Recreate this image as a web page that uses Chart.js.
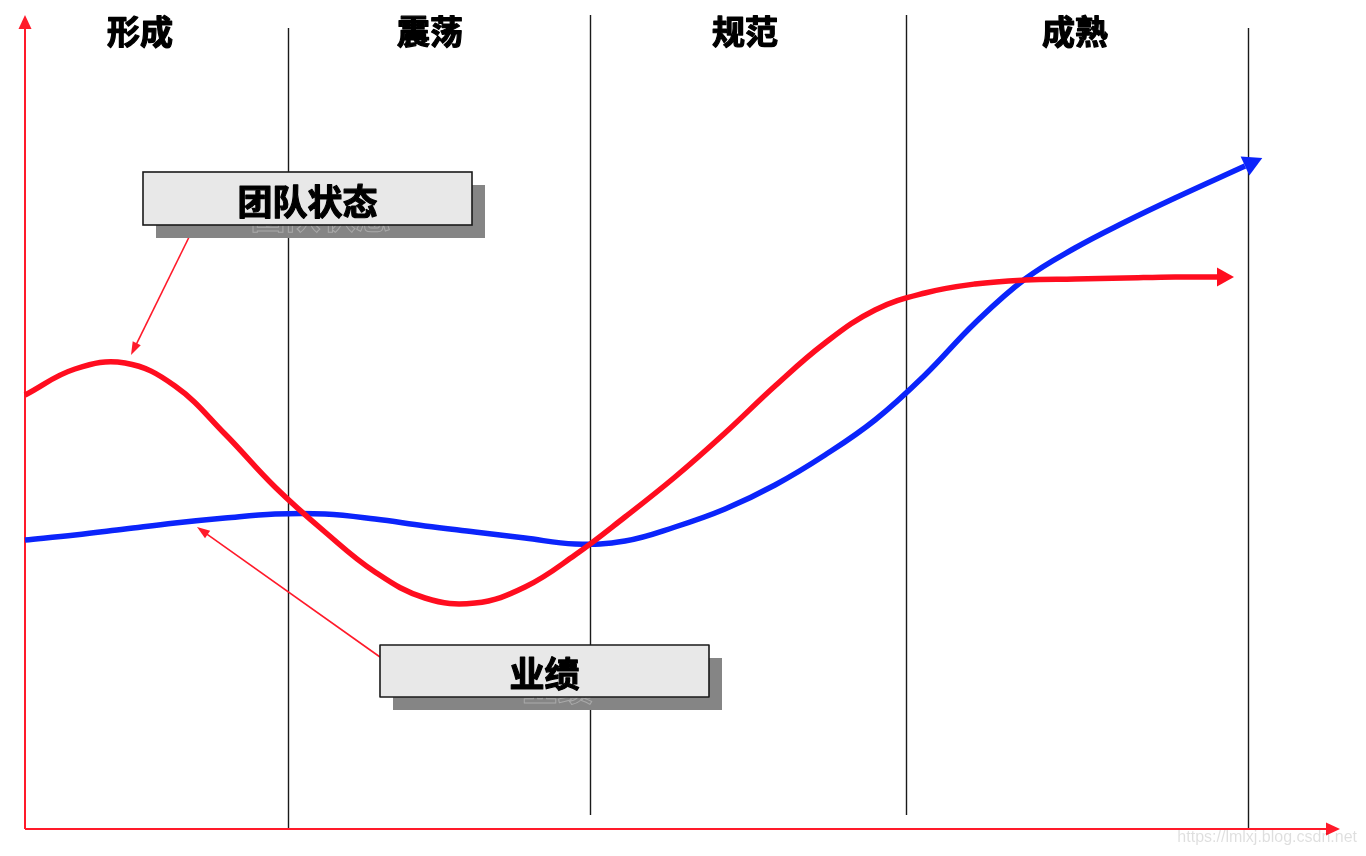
<!DOCTYPE html>
<html><head><meta charset="utf-8">
<script src="https://cdn.jsdelivr.net/npm/chart.js@4/dist/chart.umd.min.js"></script>
<style>html,body{margin:0;padding:0;background:#fff;overflow:hidden}canvas{display:block}</style>
</head><body>
<canvas id="c" width="1366" height="856"></canvas>
<script>
// ---- data (x: time units, y: level units) ----
const stageNames = ['形成', '震荡', '规范', '成熟'];
const stageLabelX = [11.5, 40.5, 72.0, 105.0];
const stageBounds = [26.3, 56.5, 88.1, 122.3];

const teamLabel = '团队状态';
const teamX = [0, 5, 10, 15, 20, 25, 30, 35, 40, 45, 50, 55, 60, 65, 70, 75, 80, 85, 90, 95, 100, 105, 110, 115, 119.2];
const teamY = [43.4, 46.0, 46.6, 44.3, 39.5, 34.2, 29.7, 25.7, 23.1, 22.6, 24.2, 27.4, 31.2, 35.2, 39.6, 44.3, 48.6, 51.9, 53.6, 54.5, 54.9, 55.0, 55.1, 55.2, 55.2];

const perfLabel = '业绩';
const perfX = [0, 5, 10, 15, 20, 25, 30, 35, 40, 45, 50, 55, 60, 65, 70, 75, 80, 85, 90, 95, 100, 105, 110, 115, 122];
const perfY = [28.9, 29.4, 30.0, 30.6, 31.1, 31.5, 31.5, 31.0, 30.3, 29.7, 29.1, 28.5, 28.8, 30.2, 32.0, 34.4, 37.4, 40.9, 45.4, 50.6, 55.0, 58.1, 60.7, 63.1, 66.3];

const RED = '#FF0D1F', BLUE = '#0B24FB', AXIS = '#FF1A2A';

function tri(ctx, tx, ty, dx, dy, len, w, color) {
  const m = Math.hypot(dx, dy) || 1; dx /= m; dy /= m;
  const bx = tx - dx * len, by = ty - dy * len;
  const qx = -dy * w / 2, qy = dx * w / 2;
  ctx.beginPath(); ctx.moveTo(tx, ty); ctx.lineTo(bx + qx, by + qy); ctx.lineTo(bx - qx, by - qy); ctx.closePath();
  ctx.fillStyle = color; ctx.fill();
}

const decor = {
  id: 'decor',
  beforeDatasetsDraw(chart, args, opt) {
    const ctx = chart.ctx, X = chart.scales.x, Y = chart.scales.y;
    const px = v => X.getPixelForValue(v), py = v => Y.getPixelForValue(v);
    ctx.save();
    ctx.strokeStyle = '#1a1a1a'; ctx.lineWidth = 1.4;
    stageBounds.forEach((b, i) => {
      ctx.beginPath(); ctx.moveTo(Math.round(px(b)) + 0.5, py(opt.lineTop[i])); ctx.lineTo(Math.round(px(b)) + 0.5, py(opt.lineBottom[i])); ctx.stroke();
    });
    ctx.fillStyle = '#000'; ctx.strokeStyle = '#000'; ctx.lineWidth = 1.2; ctx.lineJoin = 'round';
    ctx.font = 'bold 33px "Noto Sans CJK SC", sans-serif';
    ctx.textAlign = 'center'; ctx.textBaseline = 'middle';
    stageNames.forEach((s, i) => { ctx.fillText(s, px(stageLabelX[i]), 31); ctx.strokeText(s, px(stageLabelX[i]), 31); });
    ctx.strokeStyle = AXIS; ctx.lineWidth = 2;
    const x0 = px(X.min), y0 = py(Y.min), x1 = px(X.max), y1 = py(Y.max);
    ctx.beginPath(); ctx.moveTo(x0, y0); ctx.lineTo(x0, y1 + 10); ctx.stroke();
    ctx.beginPath(); ctx.moveTo(x0, y0); ctx.lineTo(x1 - 10, y0); ctx.stroke();
    tri(ctx, x0, y1, 0, -1, 14, 13, AXIS);
    tri(ctx, x1, y0, 1, 0, 14, 13, AXIS);
    ctx.restore();
  },
  afterDatasetsDraw(chart, args, opt) {
    const ctx = chart.ctx, X = chart.scales.x, Y = chart.scales.y;
    const px = v => X.getPixelForValue(v), py = v => Y.getPixelForValue(v);
    ctx.save();
    chart.data.datasets.forEach((ds, i) => {
      const pts = chart.getDatasetMeta(i).data, n = pts.length;
      const last = pts[n - 1];
      const ax = (last.cp1x !== undefined) ? last.cp1x : pts[n - 2].x;
      const ay = (last.cp1y !== undefined) ? last.cp1y : pts[n - 2].y;
      const dx = last.x - ax, dy = last.y - ay, m = Math.hypot(dx, dy) || 1;
      const L = i === 0 ? 17 : 19, W = i === 0 ? 19 : 21;
      tri(ctx, last.x + dx / m * L, last.y + dy / m * L, dx, dy, L, W, ds.borderColor);
    });
    opt.callouts.forEach(c => {
      const bx = px(c.x0), by = py(c.y0), bw = px(c.x1) - bx, bh = py(c.y1) - by;
      const sx = px(c.from[0]), sy = py(c.from[1]), ex = px(c.to[0]), ey = py(c.to[1]);
      ctx.strokeStyle = AXIS; ctx.lineWidth = 1.6;
      const dx = ex - sx, dy = ey - sy, m = Math.hypot(dx, dy);
      ctx.beginPath(); ctx.moveTo(sx, sy); ctx.lineTo(ex - dx / m * 10, ey - dy / m * 10); ctx.stroke();
      tri(ctx, ex, ey, dx, dy, 13, 9, AXIS);
      ctx.fillStyle = '#858585'; ctx.fillRect(bx + 13, by + 13, bw, bh);
      ctx.font = 'bold 35px "Noto Sans CJK SC", sans-serif'; ctx.textAlign = 'center'; ctx.textBaseline = 'middle';
      ctx.strokeStyle = '#a9a9a9'; ctx.lineWidth = 1;
      ctx.strokeText(c.text, bx + bw / 2 + 13, by + bh / 2 + 17);
      ctx.fillStyle = '#E8E8E8'; ctx.fillRect(bx, by, bw, bh);
      ctx.strokeStyle = '#1a1a1a'; ctx.lineWidth = 1.6; ctx.strokeRect(bx, by, bw, bh);
      ctx.fillStyle = '#000'; ctx.strokeStyle = '#000'; ctx.lineWidth = 1.2; ctx.lineJoin = 'round';
      ctx.fillText(c.text, bx + bw / 2, by + bh / 2 + 3);
      ctx.strokeText(c.text, bx + bw / 2, by + bh / 2 + 3);
    });
    ctx.restore();
  },
  afterDraw(chart) {
    const ctx = chart.ctx;
    ctx.save();
    ctx.fillStyle = 'rgba(0,0,0,0.13)'; ctx.font = '16px "Liberation Sans", Arial, sans-serif';
    ctx.textAlign = 'right'; ctx.textBaseline = 'middle';
    ctx.fillText('https://lmlxj.blog.csdn.net', 1357, 838);
    ctx.restore();
  }
};

new Chart(document.getElementById('c'), {
  type: 'line',
  data: {
    datasets: [
      { label: teamLabel, data: teamX.map((x, i) => ({ x, y: teamY[i] })), borderColor: RED, borderWidth: 5.5,
        pointRadius: 0, tension: 0.4, borderCapStyle: 'butt', borderJoinStyle: 'round', clip: false, fill: false },
      { label: perfLabel, data: perfX.map((x, i) => ({ x, y: perfY[i] })), borderColor: BLUE, borderWidth: 5.5,
        pointRadius: 0, tension: 0.4, borderCapStyle: 'butt', borderJoinStyle: 'round', clip: false, fill: false }
    ]
  },
  options: {
    responsive: false, animation: false, devicePixelRatio: 1,
    layout: { padding: { left: 25, right: 26, top: 15, bottom: 27 } },
    scales: {
      x: { type: 'linear', min: 0, max: 131.5, display: false },
      y: { type: 'linear', min: 0, max: 81.4, display: false }
    },
    plugins: {
      legend: { display: false }, tooltip: { enabled: false },
      decor: {
        lineTop: [80.1, 81.4, 81.4, 80.1],
        lineBottom: [0, 1.4, 1.4, 0],
        callouts: [
          { text: teamLabel, x0: 11.8, y0: 65.7, x1: 44.7, y1: 60.4, from: [17.0, 60.4], to: [10.6, 47.4] },
          { text: perfLabel, x0: 35.5, y0: 18.4, x1: 68.4, y1: 13.2, from: [35.5, 17.2], to: [17.2, 30.2] }
        ]
      }
    }
  },
  plugins: [decor]
});
</script>
</body></html>
